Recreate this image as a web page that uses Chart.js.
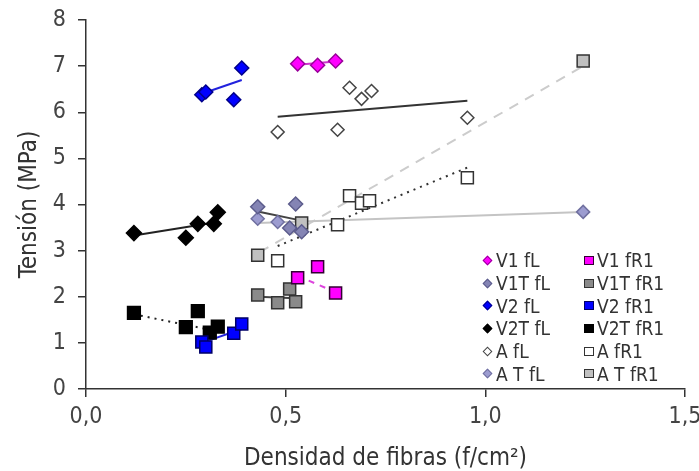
<!DOCTYPE html>
<html>
<head>
<meta charset="utf-8">
<script src="https://cdn.jsdelivr.net/npm/chart.js@4.4.1/dist/chart.umd.min.js"></script>
<style>
  html, body { margin: 0; padding: 0; background: #fff; }
  #wrap { position: relative; width: 699px; height: 471px; }
  #legend { position: absolute; left: 482px; top: 249px; display: grid; grid-template-columns: 102px 100px; grid-auto-rows: 22.7px;
    font-family: 'Liberation Sans Narrow', 'DejaVu Sans Condensed', 'Liberation Sans', Arial, sans-serif; font-size: 19px; color: #333; }
  .item { display: flex; align-items: center; white-space: nowrap; }
  .mk { display: inline-block; box-sizing: border-box; margin-right: 3px; }
  .dia { width: 7px; height: 7px; transform: rotate(45deg); margin-left: 2px; margin-right: 5px; }
  .sq { width: 10px; height: 9px; }
</style>
</head>
<body>
<div id="wrap">
  <canvas id="c" width="699" height="471"></canvas>
  <div id="legend"></div>
</div>
<script>
// ---- data ----
const v1fL_x = [0.53, 0.58, 0.625];
const v1fL_y = [7.05, 7.02, 7.11];
const v1fR1_x = [0.53, 0.58, 0.625];
const v1fR1_y = [2.41, 2.65, 2.08];
const v1TfL_x = [0.43, 0.525, 0.51, 0.54];
const v1TfL_y = [3.95, 4.01, 3.49, 3.41];
const v1TfR1_x = [0.43, 0.48, 0.51, 0.525];
const v1TfR1_y = [2.04, 1.87, 2.17, 1.89];
const v2fL_x = [0.29, 0.30, 0.37, 0.39];
const v2fL_y = [6.38, 6.44, 6.27, 6.96];
const v2fR1_x = [0.29, 0.30, 0.37, 0.39];
const v2fR1_y = [1.02, 0.91, 1.21, 1.41];
const v2TfL_x = [0.12, 0.25, 0.28, 0.32, 0.33];
const v2TfL_y = [3.38, 3.28, 3.58, 3.58, 3.83];
const v2TfR1_x = [0.12, 0.25, 0.28, 0.31, 0.33];
const v2TfR1_y = [1.65, 1.34, 1.69, 1.22, 1.35];
const afL_x = [0.48, 0.63, 0.66, 0.69, 0.715, 0.955];
const afL_y = [5.57, 5.62, 6.53, 6.29, 6.46, 5.88];
const afR1_x = [0.48, 0.63, 0.66, 0.69, 0.71, 0.955];
const afR1_y = [2.78, 3.56, 4.19, 4.03, 4.08, 4.58];
const aTfL_x = [0.43, 0.48, 1.245];
const aTfL_y = [3.69, 3.62, 3.84];
const aTfR1_x = [0.43, 0.54, 1.245];
const aTfR1_y = [2.90, 3.60, 7.11];

// trend line end points: [x0, y0, x1, y1]
const v1fL_trend = [0.53, 7.03, 0.625, 7.10];
const v1fR1_trend = [0.53, 2.45, 0.625, 2.10];
const v1TfL_trend = [0.43, 3.85, 0.54, 3.65];
const v1TfR1_trend = [0.43, 2.00, 0.525, 1.97];
const v2fL_trend = [0.29, 6.40, 0.39, 6.70];
const v2fR1_trend = [0.29, 1.00, 0.39, 1.30];
const v2TfL_trend = [0.12, 3.33, 0.33, 3.62];
const v2TfR1_trend = [0.12, 1.62, 0.33, 1.25];
const afL_trend = [0.48, 5.90, 0.955, 6.25];
const afR1_trend = [0.48, 3.10, 0.955, 4.80];
const aTfL_trend = [0.43, 3.60, 1.245, 3.84];
const aTfR1_trend = [0.435, 2.97, 1.245, 7.00];

const xTicks = [0, 0.5, 1.0, 1.5];
const yTicks = [0, 1, 2, 3, 4, 5, 6, 7, 8];

const FONT = "'Liberation Sans Narrow', 'DejaVu Sans Condensed', 'Liberation Sans', Arial, sans-serif";

function pts(xs, ys) { return xs.map((x, i) => ({ x: x, y: ys[i] })); }
function seg(t) { return [{ x: t[0], y: t[1] }, { x: t[2], y: t[3] }]; }

const series = [
  { label: 'V1 fL',   x: v1fL_x,   y: v1fL_y,   shape: 'rectRot', r: 7, fill: '#ff00ff', border: '#990099', trend: v1fL_trend,   tc: '#cc33cc', dash: [] },
  { label: 'V1 fR1',  x: v1fR1_x,  y: v1fR1_y,  shape: 'rect',    r: 8.5, fill: '#ff00ff', border: '#330033', trend: v1fR1_trend, tc: '#dd44dd', dash: [6, 6] },
  { label: 'V1T fL',  x: v1TfL_x,  y: v1TfL_y,  shape: 'rectRot', r: 7, fill: '#8484b4', border: '#5c5c8c', trend: v1TfL_trend,  tc: '#444444', dash: [] },
  { label: 'V1T fR1', x: v1TfR1_x, y: v1TfR1_y, shape: 'rect',    r: 8.5, fill: '#8a8a8a', border: '#333333', trend: v1TfR1_trend, tc: '#444444', dash: [] },
  { label: 'V2 fL',   x: v2fL_x,   y: v2fL_y,   shape: 'rectRot', r: 7, fill: '#0000ff', border: '#000088', trend: v2fL_trend,   tc: '#2222dd', dash: [] },
  { label: 'V2 fR1',  x: v2fR1_x,  y: v2fR1_y,  shape: 'rect',    r: 8.5, fill: '#0000ff', border: '#000066', trend: v2fR1_trend, tc: '#2222dd', dash: [] },
  { label: 'V2T fL',  x: v2TfL_x,  y: v2TfL_y,  shape: 'rectRot', r: 7.5, fill: '#000000', border: '#000000', trend: v2TfL_trend, tc: '#222222', dash: [] },
  { label: 'V2T fR1', x: v2TfR1_x, y: v2TfR1_y, shape: 'rect',    r: 9, fill: '#000000', border: '#000000', trend: v2TfR1_trend, tc: '#222222', dash: [2, 5] },
  { label: 'A fL',    x: afL_x,    y: afL_y,    shape: 'rectRot', r: 6.5, fill: '#ffffff', border: '#444444', trend: afL_trend,   tc: '#333333', dash: [] },
  { label: 'A fR1',   x: afR1_x,   y: afR1_y,   shape: 'rect',    r: 8.5, fill: '#ffffff', border: '#333333', trend: afR1_trend,  tc: '#333333', dash: [2, 5] },
  { label: 'A T fL',  x: aTfL_x,   y: aTfL_y,   shape: 'rectRot', r: 6.5, fill: '#9c9cd0', border: '#7070a0', trend: aTfL_trend,  tc: '#c4c4c4', dash: [] },
  { label: 'A T fR1', x: aTfR1_x,  y: aTfR1_y,  shape: 'rect',    r: 8.5, fill: '#c0c0c0', border: '#333333', trend: aTfR1_trend, tc: '#cccccc', dash: [10, 8] }
];

const datasets = [];
series.forEach(s => {
  datasets.push({
    label: s.label, data: pts(s.x, s.y), showLine: false,
    pointStyle: s.shape, pointRadius: s.r, pointHoverRadius: s.r,
    backgroundColor: s.fill, borderColor: s.border, pointBorderWidth: 1.5, order: 0
  });
});
series.forEach(s => {
  datasets.push({
    label: s.label + ' trend', data: seg(s.trend), showLine: true, pointRadius: 0,
    borderColor: s.tc, borderWidth: 2, borderDash: s.dash, fill: false, order: 1
  });
});

const chart = new Chart(document.getElementById('c'), {
  type: 'scatter',
  data: { datasets: datasets },
  options: {
    responsive: false, animation: false,
    layout: { padding: { top: 20, right: 14, left: 0, bottom: 0 } },
    plugins: { legend: { display: false }, tooltip: { enabled: false } },
    scales: {
      x: {
        type: 'linear', min: 0, max: 1.5,
        afterBuildTicks: sc => { sc.ticks = xTicks.map(v => ({ value: v })); },
        afterFit: sc => { sc.height = 82; sc.paddingRight = 0; sc.paddingLeft = 0; },
        ticks: { padding: 6, color: '#444', font: { family: FONT, size: 23 },
                 callback: v => v.toFixed(1).replace('.', ',') },
        grid: { drawOnChartArea: false, drawTicks: true, tickLength: 8, color: '#333', lineWidth: 1.5 },
        border: { display: true, color: '#333', width: 1.5 },
        title: { display: true, text: 'Densidad de fibras (f/cm²)', color: '#333',
                 font: { family: FONT, size: 24, lineHeight: 1.0 }, padding: { top: 0, bottom: 0 } }
      },
      y: {
        type: 'linear', min: 0, max: 8,
        afterBuildTicks: sc => { sc.ticks = yTicks.map(v => ({ value: v })); },
        afterFit: sc => { sc.width = 86; sc.paddingTop = 0; sc.paddingBottom = 0; },
        ticks: { padding: 12, color: '#444', font: { family: FONT, size: 23 } },
        grid: { drawOnChartArea: false, drawTicks: true, tickLength: 8, color: '#333', lineWidth: 1.5 },
        border: { display: true, color: '#333', width: 1.5 },
        title: { display: true, text: 'Tensión (MPa)', color: '#333',
                 font: { family: FONT, size: 24, lineHeight: 1.0 }, padding: { top: 18, bottom: 0 } }
      }
    }
  }
});

// HTML legend built from the series list (two columns: fL | fR1)
const lg = document.getElementById('legend');
series.forEach(s => {
  const d = document.createElement('div');
  d.className = 'item';
  const m = document.createElement('span');
  m.className = 'mk ' + (s.shape === 'rectRot' ? 'dia' : 'sq');
  m.style.background = s.fill;
  m.style.border = '1.5px solid ' + s.border;
  d.appendChild(m);
  d.appendChild(document.createTextNode(s.label));
  lg.appendChild(d);
});
</script>
</body>
</html>
